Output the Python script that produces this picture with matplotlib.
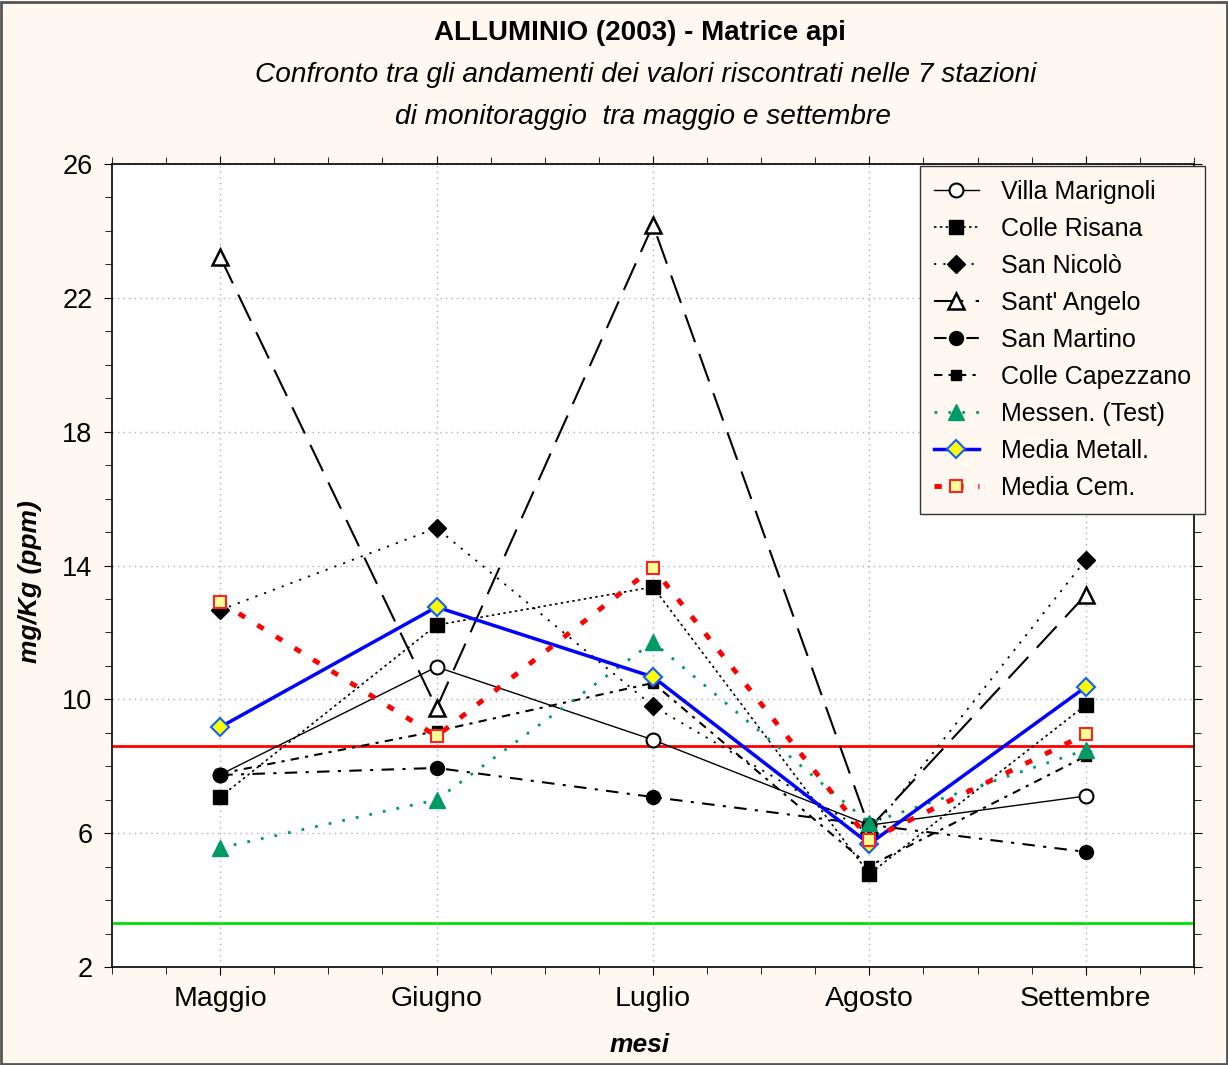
import matplotlib.pyplot as plt
from matplotlib.ticker import MultipleLocator

plt.rcParams['font.family'] = ['Liberation Sans', 'DejaVu Sans']

mesi = ['Maggio', 'Giugno', 'Luglio', 'Agosto', 'Settembre']

villa_marignoli = [7.75, 10.97, 8.79, 6.24, 7.11]
colle_risana = [7.08, 12.22, 13.36, 4.78, 9.83]
san_nicolo = [12.67, 15.12, 9.80, 6.00, 14.17]
sant_angelo = [23.22, 9.74, 24.18, 6.15, 13.12]
san_martino = [7.74, 7.95, 7.08, 6.25, 5.44]
colle_capezzano = [7.78, 9.05, 10.49, 5.02, 8.30]
messen_test = [5.56, 7.00, 11.71, 6.30, 8.49]
media_metall = [9.17, 12.76, 10.67, 5.68, 10.37]
media_cem = [12.91, 8.90, 13.93, 5.80, 8.96]

limite_rosso = 8.61
limite_verde = 3.32

x = list(range(len(mesi)))

fig = plt.figure(figsize=(12.28, 10.65), dpi=100, facecolor='#fff8f1')
ax = fig.add_axes([0.0912, 0.092, 0.8811, 0.754])
ax.set_facecolor('white')

ax.axhline(limite_rosso, color='#ff0000', lw=2, zorder=1)
ax.axhline(limite_verde, color='#00e000', lw=2, zorder=1)

ax.plot(x, villa_marignoli, color='black', lw=1, ls='-', marker='o', ms=10,
        mfc='white', mec='black', mew=1.5, label='Villa Marignoli')
ax.plot(x, colle_risana, color='black', lw=1.2, ls=(0, (1.5, 2)), marker='s', ms=10,
        mfc='black', mec='black', label='Colle Risana')
ax.plot(x, san_nicolo, color='black', lw=1.3, ls=(0, (1.2, 4)), marker='D', ms=9,
        mfc='black', mec='black', label='San Nicolò')
ax.plot(x, sant_angelo, color='black', lw=1.5, ls=(0, (14, 6)), marker='^', ms=11,
        mfc='white', mec='black', mew=1.8, label="Sant' Angelo")
ax.plot(x, san_martino, color='black', lw=1.5, ls=(0, (6, 4, 1.5, 4)), marker='o', ms=10,
        mfc='black', mec='black', label='San Martino')
ax.plot(x, colle_capezzano, color='black', lw=1.5, ls=(0, (4, 3, 1.5, 3)), marker='s', ms=7,
        mfc='black', mec='black', label='Colle Capezzano')
ax.plot(x, messen_test, color='#009a66', lw=2, ls=(0, (1, 4)), marker='^', ms=12,
        mfc='#009a66', mec='#009a66', label='Messen. (Test)')
ax.plot(x, media_metall, color='#0000ff', lw=2.5, ls='-', marker='D', ms=9,
        mfc='#ffff00', mec='#1060ff', mew=1.5, label='Media Metall.')
ax.plot(x, media_cem, color='#ff0000', lw=3.5, ls=(0, (1.5, 3)), marker='s', ms=9,
        mfc='#ffff99', mec='#ff2020', mew=1.5, label='Media Cem.')

ax.set_xlim(-0.5, 4.5)
ax.set_ylim(2, 26)
ax.set_xticks(x)
ax.set_xticklabels(mesi)
ax.set_yticks([2, 6, 10, 14, 18, 22, 26])
ax.xaxis.set_minor_locator(MultipleLocator(0.25))
ax.yaxis.set_minor_locator(MultipleLocator(1))
ax.tick_params(axis='x', which='major', labelsize=20.5)
ax.tick_params(axis='y', which='major', labelsize=19.5)
ax.tick_params(axis='both', which='major', direction='out', length=6,
               top=True, right=True, pad=8)
ax.tick_params(axis='both', which='minor', direction='out', length=5, top=True, right=True)
ax.grid(True, which='major', color='#b0b0b0', ls=(0, (1, 3)), lw=1)

for s in ax.spines.values():
    s.set_linewidth(1.2)

ax.set_xlabel('mesi', fontsize=19, fontweight='bold', fontstyle='italic', va='center')
ax.set_ylabel('mg/Kg (ppm)', fontsize=19, fontweight='bold', fontstyle='italic', va='center')
ax.xaxis.set_label_coords(0.488, -0.097)
ax.yaxis.set_label_coords(-0.0758, 0.48)

fig.text(0.521, 0.969, 'ALLUMINIO (2003) - Matrice api', ha='center', va='center',
         fontsize=20, fontweight='bold')
fig.text(0.526, 0.9296, 'Confronto tra gli andamenti dei valori riscontrati nelle 7 stazioni',
         ha='center', va='center', fontsize=20.2, fontstyle='italic')
fig.text(0.5236, 0.890, 'di monitoraggio  tra maggio e settembre',
         ha='center', va='center', fontsize=20.2, fontstyle='italic')

leg = ax.legend(loc='upper right', bbox_to_anchor=(0.9813, 0.8441), bbox_transform=fig.transFigure,
                fontsize=18, frameon=True, fancybox=False, borderaxespad=0,
                handlelength=1.8, labelspacing=0.52, borderpad=0.55, handletextpad=0.9)
leg.get_frame().set_facecolor('#fff8f1')
leg.get_frame().set_edgecolor('#333333')
leg.get_frame().set_alpha(1)

fig.patches.append(plt.Rectangle((0.001, 0.001), 0.998, 0.997, transform=fig.transFigure,
                                 fill=False, edgecolor='#555555', lw=2))

plt.savefig('out.png', dpi=100, facecolor=fig.get_facecolor())
